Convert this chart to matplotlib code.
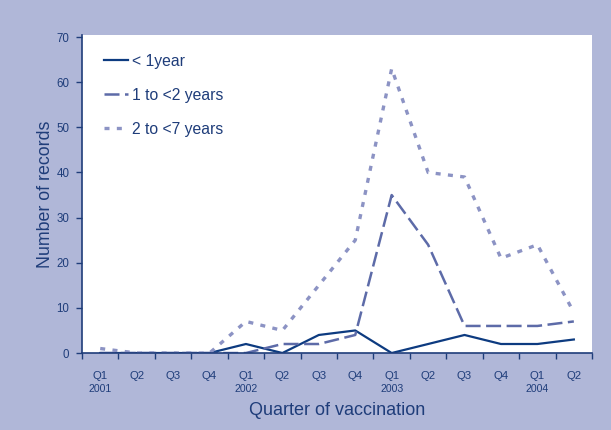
import matplotlib.pyplot as plt
from matplotlib.transforms import blended_transform_factory

plt.rcParams['font.family'] = ['Liberation Sans', 'DejaVu Sans']

quarters = ['Q1', 'Q2', 'Q3', 'Q4'] * 3 + ['Q1', 'Q2']
years = {0: '2001', 4: '2002', 8: '2003', 12: '2004'}
under1 = [0, 0, 0, 0, 2, 0, 4, 5, 0, 2, 4, 2, 2, 3]
one_to_2 = [0, 0, 0, 0, 0, 2, 2, 4, 35, 24, 6, 6, 6, 7]
two_to_7 = [1, 0, 0, 0, 7, 5, 15, 25, 63, 40, 39, 21, 24, 9]

bg = '#b0b7d8'
txt = '#1f3d7a'
x = list(range(len(quarters)))

fig = plt.figure(figsize=(6.11, 4.30), dpi=100, facecolor=bg)
ax = fig.add_axes([0.1342, 0.179, 0.8348, 0.7395])
ax.set_facecolor('white')

ax.plot(x, under1, color='#0d3b80', lw=1.6, label='< 1year')
ax.plot(x, one_to_2, color='#5d6ba8', lw=1.8, dashes=(6, 2.2), label='1 to <2 years')
ax.plot(x, two_to_7, color='#8c93c4', lw=2.4, dashes=(1.5, 2.2), label='2 to <7 years')

ax.set_xlim(-0.5, len(quarters) - 0.5)
ax.set_ylim(0, 70.45)
ax.set_yticks(range(0, 71, 10))
ax.set_xticks(x)
ax.set_xticklabels(quarters)
ax.set_xticks([i - 0.5 for i in range(len(quarters) + 1)], minor=True)
ax.tick_params(axis='x', which='major', length=0, pad=13, labelsize=8.2, labelcolor=txt)
ax.tick_params(axis='x', which='minor', length=4, width=1, color=txt, direction='out')
ax.tick_params(axis='y', length=4, width=1, pad=5, color=txt, labelsize=8.3, labelcolor=txt)

for s in ['top', 'right']:
    ax.spines[s].set_visible(False)
for s in ['left', 'bottom']:
    ax.spines[s].set_color(txt)
    ax.spines[s].set_linewidth(1.2)

tr = blended_transform_factory(ax.transData, ax.transAxes)
for i, yr in years.items():
    ax.text(i, -0.098, yr, transform=tr, ha='center', va='top', fontsize=7.6, color=txt)

ax.set_ylabel('Number of records', fontsize=12.8, color=txt, labelpad=2)
ax.set_xlabel('Quarter of vaccination', fontsize=13, color=txt, labelpad=15)

leg = ax.legend(loc='upper left', frameon=False, fontsize=11.3, handlelength=1.5,
                labelspacing=1.2, bbox_to_anchor=(0.016, 0.985), handletextpad=0.25)
for t in leg.get_texts():
    t.set_color(txt)

fig.savefig('out.png', dpi=100, facecolor=bg)
